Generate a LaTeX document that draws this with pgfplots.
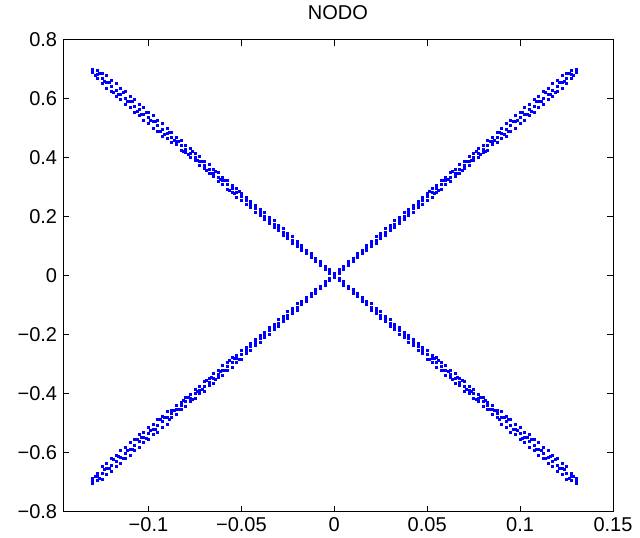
\documentclass[border=0pt]{standalone}
\usepackage{fontspec}
\setmainfont{Liberation Sans}
\usepackage{pgfplots}
\usepackage{pgfplotstable}
\pgfplotsset{compat=1.18}
\pgfplotstableread{
x p1 p2 p3 n1 n2 n3
-0.1300 -0.704 -0.696 -0.688 0.688 0.696 0.700
-0.1275 -0.694 -0.682 -0.670 0.668 0.682 0.696
-0.1250 -0.691 -0.669 -0.647 0.651 0.669 0.687
-0.1225 -0.673 -0.655 -0.637 0.633 0.655 0.677
-0.1200 -0.664 -0.642 -0.620 0.624 0.642 0.660
-0.1175 -0.647 -0.629 -0.611 0.607 0.629 0.651
-0.1150 -0.637 -0.615 -0.593 0.597 0.615 0.633
-0.1125 -0.620 -0.602 -0.584 0.580 0.602 0.624
-0.1100 -0.611 -0.589 -0.567 0.571 0.589 0.607
-0.1075 -0.593 -0.575 -0.557 0.553 0.575 0.597
-0.1050 -0.584 -0.562 -0.540 0.544 0.562 0.580
-0.1025 -0.566 -0.548 -0.530 0.526 0.548 0.570
-0.1000 -0.557 -0.535 -0.513 0.517 0.535 0.553
-0.0975 -0.540 -0.522 -0.504 0.500 0.522 0.544
-0.0950 -0.530 -0.508 -0.486 0.490 0.508 0.526
-0.0925 -0.513 -0.495 -0.477 0.473 0.495 0.517
-0.0900 -0.504 -0.482 -0.460 0.464 0.482 0.500
-0.0875 -0.480 -0.468 -0.456 0.452 0.468 0.484
-0.0850 -0.471 -0.455 -0.439 0.443 0.455 0.467
-0.0825 -0.453 -0.441 -0.429 0.425 0.441 0.457
-0.0800 -0.444 -0.428 -0.412 0.416 0.428 0.440
-0.0775 -0.427 -0.415 -0.403 0.399 0.415 0.431
-0.0750 -0.417 -0.401 -0.385 0.389 0.401 0.413
-0.0725 -0.400 -0.388 -0.376 0.372 0.388 0.404
-0.0700 -0.391 -0.375 -0.359 0.363 0.375 0.387
-0.0675 -0.373 -0.361 -0.349 0.345 0.361 0.377
-0.0650 -0.364 -0.348 -0.332 0.336 0.348 0.360
-0.0625 -0.346 -0.334 -0.322 0.318 0.334 0.350
-0.0600 -0.337 -0.321 -0.305 0.309 0.321 0.333
-0.0575 -0.320 -0.308 -0.296 0.292 0.308 0.324
-0.0550 -0.310 -0.294 -0.278 0.282 0.294 0.306
-0.0525 -0.293 -0.281 -0.269 0.265 0.281 0.297
-0.0500 -0.284 -0.268 -0.252 0.256 0.268 0.280
-0.0475 -0.263 -0.254 -0.245 0.242 0.254 0.266
-0.0450 -0.253 -0.241 -0.229 0.232 0.241 0.250
-0.0425 -0.236 -0.227 -0.218 0.215 0.227 0.239
-0.0400 -0.226 -0.214 -0.202 0.205 0.214 0.223
-0.0375 -0.210 -0.201 -0.192 0.189 0.201 0.213
-0.0350 -0.199 -0.187 -0.175 0.178 0.187 0.196
-0.0325 -0.183 -0.174 -0.165 0.162 0.174 0.186
-0.0300 -0.173 -0.161 -0.149 0.152 0.161 0.170
-0.0275 -0.156 -0.147 -0.138 0.135 0.147 0.159
-0.0250 -0.146 -0.134 -0.122 0.125 0.134 0.143
-0.0225 -0.129 -0.120 -0.111 0.108 0.120 0.132
-0.0200 -0.119 -0.107 -0.095 0.098 0.107 0.116
-0.0175 -0.099 -0.094 -0.089 0.087 0.094 0.101
-0.0150 -0.087 -0.080 -0.073 0.075 0.080 0.085
-0.0125 -0.072 -0.067 -0.062 0.060 0.067 0.074
-0.0100 -0.061 -0.054 -0.047 0.049 0.054 0.059
-0.0075 -0.045 -0.040 -0.035 0.033 0.040 0.047
-0.0050 -0.034 -0.027 -0.020 0.022 0.027 0.032
-0.0025 -0.018 -0.013 -0.008 0.006 0.013 0.020
0.0000 -0.007 0.000 0.007 -0.005 0.000 0.005
0.0025 0.006 0.013 0.020 -0.018 -0.013 -0.008
0.0050 0.022 0.027 0.032 -0.034 -0.027 -0.020
0.0075 0.033 0.040 0.047 -0.045 -0.040 -0.035
0.0100 0.049 0.054 0.059 -0.061 -0.054 -0.047
0.0125 0.060 0.067 0.074 -0.072 -0.067 -0.062
0.0150 0.075 0.080 0.085 -0.087 -0.080 -0.073
0.0175 0.087 0.094 0.101 -0.099 -0.094 -0.089
0.0200 0.098 0.107 0.116 -0.119 -0.107 -0.095
0.0225 0.108 0.120 0.132 -0.129 -0.120 -0.111
0.0250 0.125 0.134 0.143 -0.146 -0.134 -0.122
0.0275 0.135 0.147 0.159 -0.156 -0.147 -0.138
0.0300 0.152 0.161 0.170 -0.173 -0.161 -0.149
0.0325 0.162 0.174 0.186 -0.183 -0.174 -0.165
0.0350 0.178 0.187 0.196 -0.199 -0.187 -0.175
0.0375 0.189 0.201 0.213 -0.210 -0.201 -0.192
0.0400 0.205 0.214 0.223 -0.226 -0.214 -0.202
0.0425 0.215 0.227 0.239 -0.236 -0.227 -0.218
0.0450 0.232 0.241 0.250 -0.253 -0.241 -0.229
0.0475 0.242 0.254 0.266 -0.263 -0.254 -0.245
0.0500 0.256 0.268 0.280 -0.284 -0.268 -0.252
0.0525 0.265 0.281 0.297 -0.293 -0.281 -0.269
0.0550 0.282 0.294 0.306 -0.310 -0.294 -0.278
0.0575 0.292 0.308 0.324 -0.320 -0.308 -0.296
0.0600 0.309 0.321 0.333 -0.337 -0.321 -0.305
0.0625 0.318 0.334 0.350 -0.346 -0.334 -0.322
0.0650 0.336 0.348 0.360 -0.364 -0.348 -0.332
0.0675 0.345 0.361 0.377 -0.373 -0.361 -0.349
0.0700 0.363 0.375 0.387 -0.391 -0.375 -0.359
0.0725 0.372 0.388 0.404 -0.400 -0.388 -0.376
0.0750 0.389 0.401 0.413 -0.417 -0.401 -0.385
0.0775 0.399 0.415 0.431 -0.427 -0.415 -0.403
0.0800 0.416 0.428 0.440 -0.444 -0.428 -0.412
0.0825 0.425 0.441 0.457 -0.453 -0.441 -0.429
0.0850 0.443 0.455 0.467 -0.471 -0.455 -0.439
0.0875 0.452 0.468 0.484 -0.480 -0.468 -0.456
0.0900 0.464 0.482 0.500 -0.504 -0.482 -0.460
0.0925 0.473 0.495 0.517 -0.513 -0.495 -0.477
0.0950 0.490 0.508 0.526 -0.530 -0.508 -0.486
0.0975 0.500 0.522 0.544 -0.540 -0.522 -0.504
0.1000 0.517 0.535 0.553 -0.557 -0.535 -0.513
0.1025 0.526 0.548 0.570 -0.566 -0.548 -0.530
0.1050 0.544 0.562 0.580 -0.584 -0.562 -0.540
0.1075 0.553 0.575 0.597 -0.593 -0.575 -0.557
0.1100 0.571 0.589 0.607 -0.611 -0.589 -0.567
0.1125 0.580 0.602 0.624 -0.620 -0.602 -0.584
0.1150 0.597 0.615 0.633 -0.637 -0.615 -0.593
0.1175 0.607 0.629 0.651 -0.647 -0.629 -0.611
0.1200 0.624 0.642 0.660 -0.664 -0.642 -0.620
0.1225 0.633 0.655 0.677 -0.673 -0.655 -0.637
0.1250 0.651 0.669 0.687 -0.691 -0.669 -0.647
0.1275 0.668 0.682 0.696 -0.694 -0.682 -0.670
0.1300 0.688 0.696 0.700 -0.704 -0.696 -0.688
}\data
\pgfplotstableread{
x q m
-0.12875 -0.681 0.680
-0.12625 -0.686 0.687
-0.12375 -0.658 0.659
-0.12125 -0.655 0.656
-0.11875 -0.622 0.622
-0.11625 -0.614 0.613
-0.11375 -0.620 0.621
-0.11125 -0.591 0.592
-0.10875 -0.588 0.589
-0.10625 -0.555 0.555
-0.10375 -0.547 0.546
-0.10125 -0.553 0.554
-0.09875 -0.524 0.525
-0.09625 -0.521 0.522
-0.09375 -0.489 0.489
-0.09125 -0.480 0.479
-0.08875 -0.486 0.487
-0.08625 -0.457 0.458
-0.08375 -0.454 0.455
-0.08125 -0.422 0.422
-0.07875 -0.413 0.412
-0.07625 -0.419 0.420
-0.07375 -0.391 0.392
-0.07125 -0.387 0.388
-0.06875 -0.355 0.355
-0.06625 -0.346 0.345
-0.06375 -0.352 0.353
-0.06125 -0.324 0.325
-0.05875 -0.320 0.321
-0.05625 -0.288 0.288
-0.05375 -0.280 0.279
-0.05125 -0.285 0.286
0.05125 0.286 -0.285
0.05375 0.279 -0.280
0.05625 0.288 -0.288
0.05875 0.321 -0.320
0.06125 0.325 -0.324
0.06375 0.353 -0.352
0.06625 0.345 -0.346
0.06875 0.355 -0.355
0.07125 0.388 -0.387
0.07375 0.392 -0.391
0.07625 0.420 -0.419
0.07875 0.412 -0.413
0.08125 0.422 -0.422
0.08375 0.455 -0.454
0.08625 0.458 -0.457
0.08875 0.487 -0.486
0.09125 0.479 -0.480
0.09375 0.489 -0.489
0.09625 0.522 -0.521
0.09875 0.525 -0.524
0.10125 0.554 -0.553
0.10375 0.546 -0.547
0.10625 0.555 -0.555
0.10875 0.589 -0.588
0.11125 0.592 -0.591
0.11375 0.621 -0.620
0.11625 0.613 -0.614
0.11875 0.622 -0.622
0.12125 0.656 -0.655
0.12375 0.659 -0.658
0.12625 0.687 -0.686
0.12875 0.680 -0.681
}\extra
\begin{document}
\begin{tikzpicture}
\begin{axis}[
  scale only axis,
  width=330pt, height=283.2pt,
  xmin=-0.146, xmax=0.15, ymin=-0.8, ymax=0.8,
  xtick={-0.1,-0.05,0,0.05,0.1,0.15},
  xticklabels={−0.1,−0.05,0,0.05,0.1,0.15},
  ytick={-0.8,-0.6,-0.4,-0.2,0,0.2,0.4,0.6,0.8},
  yticklabels={−0.8,−0.6,−0.4,−0.2,0,0.2,0.4,0.6,0.8},
  tick align=inside, tick pos=both,
  major tick length=3.6pt,
  every tick/.style={black, line width=0.5pt},
  axis line style={black, line width=0.5pt},
  ticklabel style={font=\fontsize{12}{14}\selectfont},
  title={NODO},
  title style={font=\fontsize{12}{14}\selectfont, at={(0.5,1)}, anchor=base, yshift=6pt},
]
\addplot[blue, only marks, mark=square*, mark size=0.6pt] table[x=x,y=p1]{\data};
\addplot[blue, only marks, mark=square*, mark size=0.6pt] table[x=x,y=p2]{\data};
\addplot[blue, only marks, mark=square*, mark size=0.6pt] table[x=x,y=p3]{\data};
\addplot[blue, only marks, mark=square*, mark size=0.6pt] table[x=x,y=n1]{\data};
\addplot[blue, only marks, mark=square*, mark size=0.6pt] table[x=x,y=n2]{\data};
\addplot[blue, only marks, mark=square*, mark size=0.6pt] table[x=x,y=n3]{\data};
\addplot[blue, only marks, mark=square*, mark size=0.6pt] table[x=x,y=q]{\extra};
\addplot[blue, only marks, mark=square*, mark size=0.6pt] table[x=x,y=m]{\extra};
\end{axis}
\path (current axis.south west) ++(-37.8pt,-15pt) coordinate (bbA);
\path (current axis.north east) ++(16.2pt,22.8pt) coordinate (bbB);
\useasboundingbox (bbA) rectangle (bbB);
\end{tikzpicture}
\end{document}
